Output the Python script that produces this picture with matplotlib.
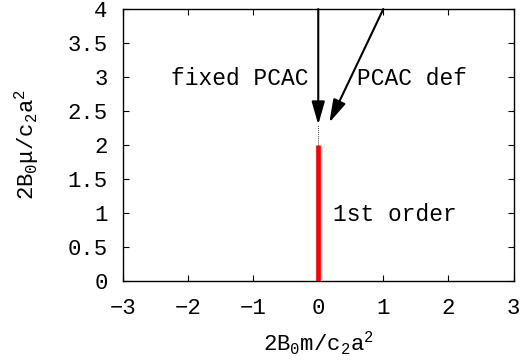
import numpy as np
import matplotlib
matplotlib.use("Agg")
import matplotlib.pyplot as plt
from matplotlib.patches import FancyArrowPatch

plt.rcParams['font.family'] = ['Liberation Mono', 'DejaVu Sans']
plt.rcParams['mathtext.fontset'] = 'custom'
plt.rcParams['mathtext.rm'] = 'Liberation Mono'
plt.rcParams['mathtext.it'] = 'Liberation Mono'

# first order line and its continuation
line_x = [0.0, 0.0]
line_y = [0.0, 2.0]
dot_x = [0.0, 0.0]
dot_y = [2.0, 2.3]

# arrows: (tail, head)
arrow_fixed = ((0.0, 4.0), (0.0, 2.3))
arrow_def = ((1.0, 4.0), (0.17, 2.33))

labels = ["fixed PCAC", "PCAC def", "1st order"]
label_pos = [(-2.27, 2.98), (0.6, 2.98), (0.23, 0.98)]

xticks = [-3, -2, -1, 0, 1, 2, 3]
yticks = [0, 0.5, 1, 1.5, 2, 2.5, 3, 3.5, 4]

fig = plt.figure(figsize=(5.27, 3.62), dpi=100)
ax = fig.add_axes([0.2334, 0.2238, 0.741, 0.7513])

ax.plot(line_x, line_y, color='red', lw=3.4, solid_capstyle='butt', zorder=3)
ax.plot(dot_x, dot_y, color='black', lw=0.6, ls=(0, (1, 1.5)), zorder=3)

for (t, h) in [arrow_fixed, arrow_def]:
    a = FancyArrowPatch(t, h, arrowstyle='-|>,head_length=0.7,head_width=0.2',
                        mutation_scale=20, color='black', lw=1.5,
                        shrinkA=0, shrinkB=0, zorder=4, clip_on=False)
    ax.add_patch(a)

for s, (x, y) in zip(labels, label_pos):
    ax.text(x, y, s, fontsize=16.5, ha='left', va='center')

ax.set_xlim(-3, 3)
ax.set_ylim(0, 4)
ax.set_xticks(xticks)
ax.set_yticks(yticks)
ax.set_xticklabels([str(v).replace('-', '\u2212') for v in xticks])
ax.set_yticklabels(['0', '0.5', '1', '1.5', '2', '2.5', '3', '3.5', '4'])
ax.tick_params(direction='in', length=4, width=0.8, labelsize=16,
               top=True, right=True)
ax.tick_params(axis='x', pad=12)
ax.tick_params(axis='y', pad=11)
for sp in ax.spines.values():
    sp.set_linewidth(1.0)

ax.set_xlabel(r'$\mathrm{2B_0m/c_2a^2}$', fontsize=16, labelpad=8)
ax.set_ylabel(r'$\mathrm{2B_0\mu/c_2a^2}$', fontsize=16, labelpad=19)

fig.savefig('out.png', dpi=100)
